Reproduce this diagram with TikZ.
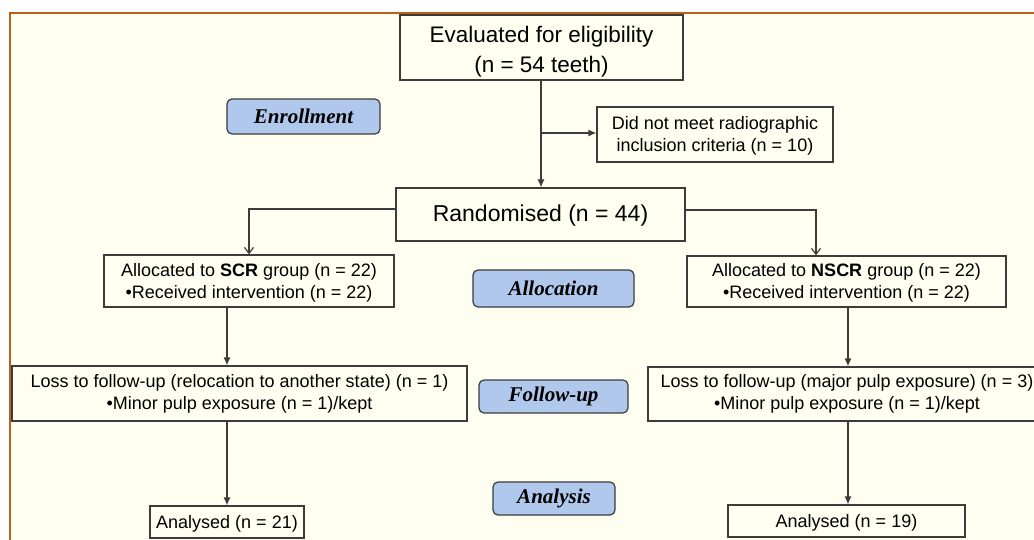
\documentclass[tikz,border=0pt]{standalone}
\usepackage{fontspec}
\setmainfont{Liberation Sans}
\newfontfamily\tnr{Liberation Serif}
\usetikzlibrary{arrows.meta}
\definecolor{bgc}{RGB}{254,254,241}
\definecolor{framec}{RGB}{190,95,25}
\definecolor{linec}{RGB}{60,60,60}
\definecolor{labfill}{RGB}{176,200,236}
\begin{document}
\begin{tikzpicture}[x=1pt,y=-1pt,
  box/.style={draw=linec, line width=1.2pt, align=center, inner sep=0pt, font=\fontsize{18}{22}\selectfont},
  phase/.style={draw=linec, line width=1.2pt, fill=labfill, rounded corners=5pt, inner sep=0pt,
     font=\tnr\bfseries\itshape\fontsize{21}{24}\selectfont},
  conn/.style={draw=linec, line width=1.2pt},
  fa/.style={conn, -{Latex[length=8pt,width=7pt]}},
  oa/.style={conn, -{Straight Barb[length=6pt,width=9pt]}}]
\useasboundingbox (0,0) rectangle (1034,540);
\clip (0,0) rectangle (1034,540);
\fill[white] (0,0) rectangle (1034,540);
\filldraw[fill=bgc, draw=framec, line width=2.5pt] (10,13) rectangle (1060,570);

\node[box, minimum width=283pt, minimum height=65pt, font=\fontsize{22.5}{30}\selectfont] (eval) at (541.5,47.5) {\rule{0pt}{24pt}Evaluated for eligibility\\(n = 54 teeth)};
\node[box, minimum width=236pt, minimum height=55pt] (dnm) at (715,134.5) {\rule{0pt}{16pt}Did not meet radiographic\\inclusion criteria (n = 10)};
\node[box, minimum width=289pt, minimum height=53pt, font=\fontsize{23}{28}\selectfont] (rand) at (540.5,214.5) {\rule{0pt}{19pt}Randomised (n = 44)};
\node[box, minimum width=290pt, minimum height=52pt] (scr) at (249,281) {\rule{0pt}{16pt}Allocated to \textbf{SCR} group (n = 22)\\\textbullet Received intervention (n = 22)};
\node[box, minimum width=319pt, minimum height=51pt] (nscr) at (846.5,281.5) {\rule{0pt}{16pt}Allocated to \textbf{NSCR} group (n = 22)\\\textbullet Received intervention (n = 22)};
\node[box, minimum width=455pt, minimum height=55pt] (lossL) at (239.5,393.5) {Loss to follow-up (relocation to another state) (n = 1)\\\textbullet Minor pulp exposure (n = 1)/kept};
\node[box, minimum width=398pt, minimum height=54pt] (lossR) at (847,394) {Loss to follow-up (major pulp exposure) (n = 3)\\\textbullet Minor pulp exposure (n = 1)/kept};
\node[box, minimum width=154pt, minimum height=32pt] (anaL) at (227,522) {\rule{0pt}{16pt}Analysed (n = 21)};
\node[box, minimum width=237pt, minimum height=32pt] (anaR) at (846.5,521) {\rule{0pt}{16pt}Analysed (n = 19)};

\node[phase, minimum width=153pt, minimum height=35pt] (enr) at (303.5,116.5) {Enrollment};
\node[phase, minimum width=161pt, minimum height=37pt] (alloc) at (553.5,288.5) {Allocation};
\node[phase, minimum width=149pt, minimum height=33pt] (fup) at (553.5,396.5) {Follow-up};
\node[phase, minimum width=122pt, minimum height=33pt] (ana) at (554,498.5) {Analysis};

\coordinate (split) at (541,133);
\coordinate (rx) at (848,0);
\draw[fa] ([xshift=-0.5pt]eval.south) -- ([xshift=0.5pt]rand.north);
\draw[fa] (split) -- (split -| dnm.west);
\draw[oa] ([yshift=5.5pt]rand.west) -| (scr.north);
\draw[oa] ([yshift=4.5pt]rand.east) -| ([xshift=-30.5pt]nscr.north);
\draw[fa] ([xshift=-22pt]scr.south) -- ([xshift=-12.5pt]lossL.north);
\draw[fa] (lossL.south -| anaL.north) -- (anaL.north);
\draw[fa] (nscr.south -| rx) -- (lossR.north -| rx);
\draw[fa] (lossR.south -| rx) -- (anaR.north -| rx);
\end{tikzpicture}
\end{document}
